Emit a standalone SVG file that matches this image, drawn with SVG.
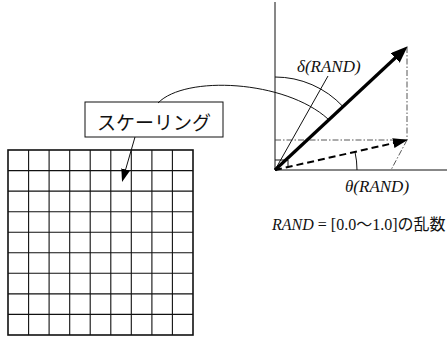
<svg xmlns="http://www.w3.org/2000/svg" width="448" height="339" viewBox="0 0 448 339">
<style>
  .thin { fill: none; stroke: #111; stroke-width: 1; }
  .grid { fill: none; stroke: #111; stroke-width: 1.1; }
  .border { fill: none; stroke: #111; stroke-width: 1.6; }
  .dashdot { fill: none; stroke: #444; stroke-width: 0.9; stroke-dasharray: 6 2 1.5 2; }
  .bold { fill: none; stroke: #000; stroke-width: 3.2; }
  .dashed { fill: none; stroke: #000; stroke-width: 2; stroke-dasharray: 7 4; }
  .lbl { font-family: "Liberation Serif", "Times New Roman", serif; font-style: italic; font-size: 17px; fill: #111; }
  .jp { font-family: "Noto Sans CJK JP", "Noto Sans", sans-serif; fill: #111; }
  .rom { font-family: "Liberation Serif", "Noto Sans CJK JP", serif; fill: #111; }
</style>
<defs>
  <marker id="headBold" markerUnits="userSpaceOnUse" markerWidth="18" markerHeight="14" refX="8" refY="6.5" orient="auto">
    <path d="M0,0 L17,6.5 L0,13 Z" fill="#000" stroke="none"/>
  </marker>
  <marker id="headDash" markerUnits="userSpaceOnUse" markerWidth="16" markerHeight="12" refX="7" refY="5" orient="auto">
    <path d="M0,0 L15,5 L0,10 Z" fill="#000" stroke="none"/>
  </marker>
  <marker id="headThin" markerUnits="userSpaceOnUse" markerWidth="14" markerHeight="10" refX="7" refY="4.5" orient="auto">
    <path d="M0,0 L13,4.5 L0,9 Z" fill="#000" stroke="none"/>
  </marker>
</defs>
<rect width="448" height="339" fill="#fff"/>

<g id="grid">
  <rect class="border" x="8" y="150" width="185" height="185"/>
  <path class="grid" d="M28.6,150V335 M49.1,150V335 M69.7,150V335 M90.2,150V335 M110.8,150V335 M131.3,150V335 M151.9,150V335 M172.4,150V335
                         M8,170.6H193 M8,191.1H193 M8,211.7H193 M8,232.2H193 M8,252.8H193 M8,273.3H193 M8,293.9H193 M8,314.4H193"/>
</g>

<g id="scaling-box">
  <rect class="thin" x="85" y="102" width="138" height="35" fill="#fff"/>
  <text class="jp" x="154" y="130" font-size="19" text-anchor="middle">スケーリング</text>
</g>

<g id="vector-diagram">
  <path class="thin" d="M275,2 V170 H447"/>
  <path class="dashdot" d="M407,47 V140 M275,140 H407 M407,140 L391,170"/>
  <path class="thin" d="M275,160 H288 V167" stroke-width="0.9"/>
  <path class="thin" d="M275,77 A93,93 0 0,1 343,106.6"/>
  <path class="thin" d="M357,170 A82,82 0 0,0 355,152"/>
  <line class="thin" x1="275" y1="170" x2="328" y2="76"/>
  <line class="dashed" x1="275" y1="170" x2="400.2" y2="141.6" marker-end="url(#headDash)"/>
  <line class="bold" x1="275" y1="170" x2="401.1" y2="52.5" marker-end="url(#headBold)"/>
  <text class="lbl" x="297" y="72">δ(RAND)</text>
  <text class="lbl" x="345" y="192">θ(RAND)</text>
</g>

<g id="legend">
  <text class="rom" x="272" y="230" font-size="16"><tspan font-style="italic">RAND</tspan> = [0.0～1.0]<tspan class="jp">の乱数</tspan></text>
</g>

<g id="connectors">
  <path class="thin" d="M158,103 C185,75 285,80 328,119"/>
  <line class="thin" x1="135" y1="137" x2="123.7" y2="176.2" marker-end="url(#headThin)"/>
</g>
</svg>
